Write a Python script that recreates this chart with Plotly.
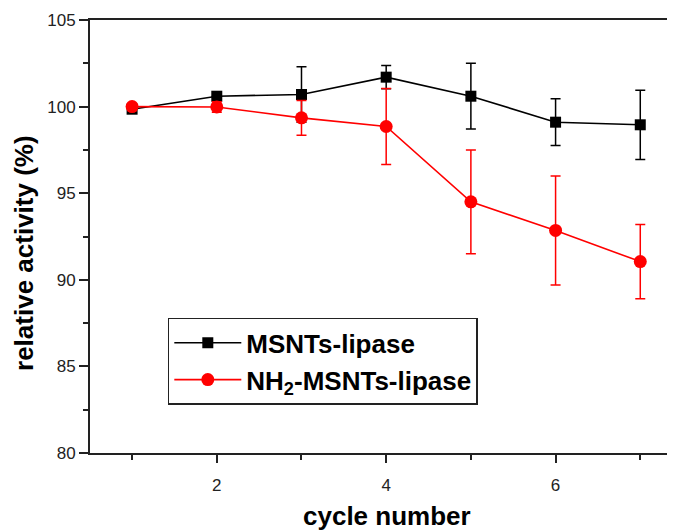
import plotly.graph_objects as go

cycles = [1, 2, 3, 4, 5, 6, 7]
msnts = [99.85, 100.6, 100.7, 101.7, 100.6, 99.1, 98.95]
msnts_err = [0.0, 0.0, 1.6, 0.67, 1.9, 1.35, 2.0]
nh2 = [100.0, 99.98, 99.35, 98.85, 94.5, 92.85, 91.05]
nh2_err = [0.0, 0.3, 1.0, 2.2, 3.0, 3.15, 2.15]

x_ticks = [2, 4, 6]
y_ticks = [80, 85, 90, 95, 100, 105]

fig = go.Figure()
fig.add_trace(go.Scatter(
    x=cycles, y=msnts, mode="lines+markers", name="MSNTs-lipase",
    line=dict(color="black", width=1.6),
    marker=dict(symbol="square", size=11, color="black"),
    error_y=dict(type="data", array=msnts_err, visible=True, color="black", thickness=1.5, width=5),
))
fig.add_trace(go.Scatter(
    x=cycles, y=nh2, mode="lines+markers", name="NH<sub>2</sub>-MSNTs-lipase",
    line=dict(color="#ff0000", width=1.6),
    marker=dict(symbol="circle", size=13, color="#ff0000"),
    error_y=dict(type="data", array=nh2_err, visible=True, color="#ff0000", thickness=1.5, width=5),
))

# page body has an 8px margin, so the figure is sized to fit the 675x530 window
fig.update_layout(
    width=667, height=522,
    margin=dict(l=82, r=0, t=12, b=77),
    paper_bgcolor="white", plot_bgcolor="white",
    font=dict(family="Liberation Sans, Arial", color="#222"),
    showlegend=True,
    legend=dict(
        x=0.133, y=0.312, xanchor="left", yanchor="top",
        bgcolor="white", bordercolor="#222", borderwidth=1.5,
        font=dict(size=26, family="Liberation Sans, Arial", color="black", weight="bold"),
        itemwidth=67, tracegroupgap=0,
    ),
    xaxis=dict(
        range=[0.503, 7.41], showgrid=False, zeroline=False,
        showline=True, linecolor="#222", linewidth=2, mirror=True,
        tickmode="array", tickvals=x_ticks, ticktext=[str(v) for v in x_ticks],
        ticks="outside", ticklen=8, tickwidth=2, tickcolor="#222",
        tickfont=dict(size=17, color="#222"), ticklabelstandoff=8,
        minor=dict(tickmode="array", tickvals=[1, 3, 5, 7], ticks="outside", ticklen=5, tickwidth=2, tickcolor="#222"),
    ),
    yaxis=dict(
        range=[80, 105], showgrid=False, zeroline=False,
        showline=True, linecolor="#222", linewidth=2,
        tickmode="array", tickvals=y_ticks, ticktext=[str(v) for v in y_ticks],
        ticks="outside", ticklen=9, tickwidth=2, tickcolor="#222",
        tickfont=dict(size=17, color="#222"),
        minor=dict(tickmode="array", tickvals=[82.5, 87.5, 92.5, 97.5, 102.5], ticks="outside", ticklen=5, tickwidth=2, tickcolor="#222"),
    ),
    annotations=[
        dict(text="relative activity (%)", xref="paper", yref="paper", x=0, y=0.462,
             xanchor="center", yanchor="middle", xshift=-66, textangle=-90, showarrow=False,
             font=dict(size=26, color="black", weight="bold")),
        dict(text="cycle number", xref="paper", yref="paper", x=0.508, y=0,
             xanchor="center", yanchor="middle", yshift=-63, showarrow=False,
             font=dict(size=26, color="black", weight="bold")),
    ],
)

fig.write_html("out.html")
